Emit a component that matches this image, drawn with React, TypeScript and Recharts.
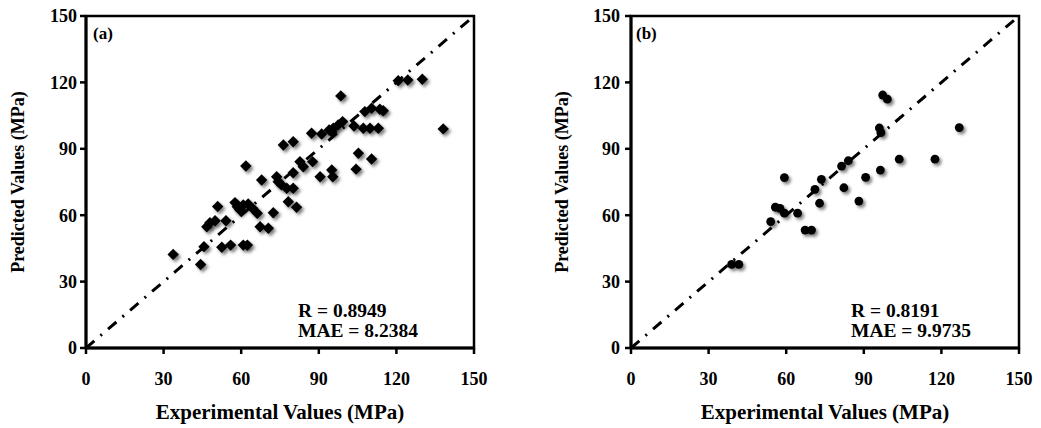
import { ReferenceArea, ReferenceLine, Scatter, ScatterChart, XAxis, YAxis } from "recharts"

// axis ticks shared by both panels
const ticks = [0, 30, 60, 90, 120, 150]

// panel (a) - experimental vs predicted
const expA = [
  33.7, 44.3, 45.6, 46.7, 47.9, 49.9, 54.1, 50.9, 52.5, 55.9, 60.8, 62.4, 57.6, 58.5, 59.5, 60.8,
  62.7, 64.4, 66.2, 67.3, 70.5, 72.4, 61.8, 67.9, 73.7, 75.6, 77.6, 80.1, 78.2, 81.4, 80.1, 82.7,
  84.0, 87.6, 76.3, 80.1, 87.2, 91.1, 95.0, 90.5, 95.0, 95.4, 98.5, 120.7, 124.4, 130.0, 138.1, 94.0,
  95.6, 97.5, 99.2, 103.6, 107.2, 109.8, 113.0, 107.8, 110.4, 113.6, 114.9, 105.3, 110.4, 104.4, 74.3,
]
const predA = [
  42.3, 37.7, 45.8, 54.8, 56.6, 57.5, 57.5, 63.9, 45.5, 46.5, 46.5, 46.5, 65.7, 63.8, 62.4, 64.6,
  65.1, 63.1, 60.9, 54.8, 54.1, 61.1, 82.2, 75.9, 77.4, 73.7, 72.2, 72.2, 66.1, 63.6, 79.2, 84.2,
  81.9, 84.2, 91.7, 93.2, 97.0, 96.7, 97.7, 77.4, 80.4, 77.4, 113.9, 120.8, 121.1, 121.4, 99.0, 98.5,
  99.3, 100.8, 102.3, 100.3, 99.3, 99.3, 99.3, 106.8, 108.3, 107.9, 107.2, 88.0, 85.4, 80.8, 75.1,
]

// panel (b)
const expB = [
  97.3, 99.1, 96.0, 96.6, 103.7, 117.5, 126.9, 96.4, 90.7, 84.0, 81.4, 82.3, 88.1, 73.6, 71.1, 72.9,
  59.3, 55.8, 57.6, 59.3, 64.4, 54.0, 67.3, 69.8, 38.9, 41.7,
]
const predB = [
  114.3, 112.4, 99.4, 97.3, 85.3, 85.3, 99.6, 80.4, 77.1, 84.6, 82.2, 72.4, 66.4, 76.2, 71.7, 65.4,
  77.0, 63.6, 63.1, 60.9, 60.9, 57.1, 53.3, 53.3, 37.8, 37.8,
]

const dataA = expA.map((x, i) => ({ x, y: predA[i] }))
const dataB = expB.map((x, i) => ({ x, y: predB[i] }))

const font = "'Liberation Serif', 'Times New Roman', serif"
const tickStyle = { fill: "#000", fontSize: 18, fontWeight: "bold", fontFamily: font }

const Diamond = (props: any) => {
  const { cx, cy } = props
  const r = 5.7
  return (
    <path
      d={`M${cx},${cy - r}L${cx + r},${cy}L${cx},${cy + r}L${cx - r},${cy}Z`}
      fill="#000"
      filter="url(#dropShadow)"
    />
  )
}

const Dot = (props: any) => <circle cx={props.cx} cy={props.cy} r={4.4} fill="#000" filter="url(#dropShadow)" />

function Panel({ data, shape, left, width, right, gap }: any) {
  return (
    <div style={{ position: "absolute", left, top: 0 }}>
      <ScatterChart width={width} height={428} margin={{ top: 16, right, bottom: 20, left: 0 }}>
        <XAxis
          type="number"
          dataKey="x"
          domain={[0, 150]}
          ticks={ticks}
          height={60}
          axisLine={{ stroke: "#000", strokeWidth: 3 }}
          tickLine={{ stroke: "#000", strokeWidth: 2.5 }}
          tickSize={6}
          tickMargin={18}
          tick={tickStyle}
          allowDataOverflow
        />
        <YAxis
          type="number"
          dataKey="y"
          domain={[0, 150]}
          ticks={ticks}
          width={86}
          axisLine={{ stroke: "#000", strokeWidth: 3 }}
          tickLine={{ stroke: "#000", strokeWidth: 2.5 }}
          tickSize={6}
          tickMargin={gap}
          tick={tickStyle}
          allowDataOverflow
        />
        <ReferenceArea x1={0} x2={150} y1={0} y2={150} fill="none" stroke="#000" strokeWidth={2.5} />
        <ReferenceLine
          segment={[{ x: 0, y: 0 }, { x: 150, y: 150 }]}
          stroke="#000"
          strokeWidth={3}
          strokeDasharray="11 8 2 8"
        />
        <Scatter data={data} shape={shape} isAnimationActive={false} />
      </ScatterChart>
    </div>
  )
}

export default function App() {
  const bold = { fontFamily: font, fontWeight: "bold", fill: "#000" } as const
  return (
    <div style={{ position: "absolute", left: 0, top: 0, width: 1041, height: 428, background: "#fff" }}>
      <svg width={0} height={0} style={{ position: "absolute" }}>
        <defs>
          <filter id="dropShadow" x="-60%" y="-60%" width="260%" height="260%">
            <feDropShadow dx={2.2} dy={2.4} stdDeviation={1.7} floodColor="#000" floodOpacity={0.5} />
          </filter>
        </defs>
      </svg>
      <Panel data={dataA} shape={Diamond} left={0} width={520} right={46} gap={3} />
      <Panel data={dataB} shape={Dot} left={545} width={496} right={22} gap={5} />
      <svg width={1041} height={428} style={{ position: "absolute", left: 0, top: 0, pointerEvents: "none" }}>
        <text x={93} y={39} fontSize={17} {...bold}>(a)</text>
        <text x={636} y={39} fontSize={17} {...bold}>(b)</text>
        <text x={298} y={317} fontSize={19.5} {...bold}>R = 0.8949</text>
        <text x={298} y={337} fontSize={19.5} {...bold}>MAE = 8.2384</text>
        <text x={851} y={317} fontSize={19.5} {...bold}>R = 0.8191</text>
        <text x={851} y={337} fontSize={19.5} {...bold}>MAE = 9.9735</text>
        <text x={280} y={419} fontSize={21} textAnchor="middle" {...bold}>Experimental Values (MPa)</text>
        <text x={825} y={419} fontSize={21} textAnchor="middle" {...bold}>Experimental Values (MPa)</text>
        <text x={24} y={182} fontSize={18} textAnchor="middle" transform="rotate(-90 24 182)" {...bold}>
          Predicted Values (MPa)
        </text>
        <text x={568} y={182} fontSize={18} textAnchor="middle" transform="rotate(-90 568 182)" {...bold}>
          Predicted Values (MPa)
        </text>
      </svg>
    </div>
  )
}
